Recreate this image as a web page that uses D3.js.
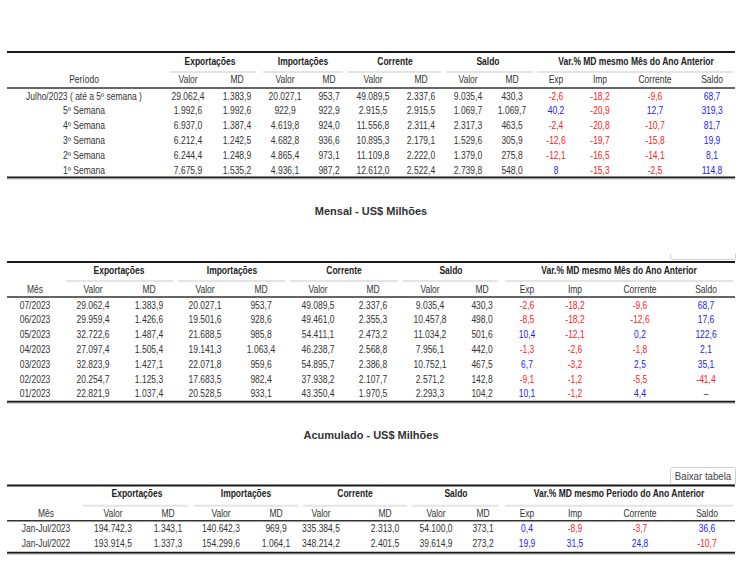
<!DOCTYPE html>
<html>
<head>
<meta charset="utf-8">
<script src="https://cdn.jsdelivr.net/npm/d3@7"></script>
<style>
  html, body { margin: 0; padding: 0; background: #fff; }
  svg { display: block; font-family: "Liberation Sans", Arial, sans-serif; }
</style>
</head>
<body>
<svg id="chart" width="748" height="588"></svg>
<script>
// ---------- DATA ----------
const groupNames = ["Exportações", "Importações", "Corrente", "Saldo"];
const subLabels = ["Valor", "MD", "Valor", "MD", "Valor", "MD", "Valor", "MD", "Exp", "Imp", "Corrente", "Saldo"];

// Table 1 – weekly
const semPeriodos = ["Julho/2023 ( até a 5º semana )", "5º Semana", "4º Semana", "3º Semana", "2º Semana", "1º Semana"];
const semExpValor = [29062.4, 1992.6, 6937.0, 6212.4, 6244.4, 7675.9];
const semExpMD = [1383.9, 1992.6, 1387.4, 1242.5, 1248.9, 1535.2];
const semImpValor = [20027.1, 922.9, 4619.8, 4682.8, 4865.4, 4936.1];
const semImpMD = [953.7, 922.9, 924.0, 936.6, 973.1, 987.2];
const semCorValor = [49089.5, 2915.5, 11556.8, 10895.3, 11109.8, 12612.0];
const semCorMD = [2337.6, 2915.5, 2311.4, 2179.1, 2222.0, 2522.4];
const semSalValor = [9035.4, 1069.7, 2317.3, 1529.6, 1379.0, 2739.8];
const semSalMD = [430.3, 1069.7, 463.5, 305.9, 275.8, 548.0];
const semVarExp = [-2.6, 40.2, -2.4, -12.6, -12.1, 8];
const semVarImp = [-18.2, -20.9, -20.8, -19.7, -16.5, -15.3];
const semVarCor = [-9.6, 12.7, -10.7, -15.8, -14.1, -2.5];
const semVarSal = [68.7, 319.3, 81.7, 19.9, 8.1, 114.8];

// Table 2 – monthly
const mesMeses = ["07/2023", "06/2023", "05/2023", "04/2023", "03/2023", "02/2023", "01/2023"];
const mesExpValor = [29062.4, 29959.4, 32722.6, 27097.4, 32823.9, 20254.7, 22821.9];
const mesExpMD = [1383.9, 1426.6, 1487.4, 1505.4, 1427.1, 1125.3, 1037.4];
const mesImpValor = [20027.1, 19501.6, 21688.5, 19141.3, 22071.8, 17683.5, 20528.5];
const mesImpMD = [953.7, 928.6, 985.8, 1063.4, 959.6, 982.4, 933.1];
const mesCorValor = [49089.5, 49461.0, 54411.1, 46238.7, 54895.7, 37938.2, 43350.4];
const mesCorMD = [2337.6, 2355.3, 2473.2, 2568.8, 2386.8, 2107.7, 1970.5];
const mesSalValor = [9035.4, 10457.8, 11034.2, 7956.1, 10752.1, 2571.2, 2293.3];
const mesSalMD = [430.3, 498.0, 501.6, 442.0, 467.5, 142.8, 104.2];
const mesVarExp = [-2.6, -8.5, 10.4, -1.3, 6.7, -9.1, 10.1];
const mesVarImp = [-18.2, -18.2, -12.1, -2.6, -3.2, -1.2, -1.2];
const mesVarCor = [-9.6, -12.6, 0.2, -1.8, 2.5, -5.5, 4.4];
const mesVarSal = [68.7, 17.6, 122.6, 2.1, 35.1, -41.4, null];

// Table 3 – accumulated
const acuPeriodos = ["Jan-Jul/2023", "Jan-Jul/2022"];
const acuExpValor = [194742.3, 193914.5];
const acuExpMD = [1343.1, 1337.3];
const acuImpValor = [140642.3, 154299.6];
const acuImpMD = [969.9, 1064.1];
const acuCorValor = [335384.5, 348214.2];
const acuCorMD = [2313.0, 2401.5];
const acuSalValor = [54100.0, 39614.9];
const acuSalMD = [373.1, 273.2];
const acuVarExp = [0.4, 19.9];
const acuVarImp = [-8.9, 31.5];
const acuVarCor = [-3.7, 24.8];
const acuVarSal = [36.6, -10.7];

const titles = ["Mensal - US$ Milhões", "Acumulado - US$ Milhões"];
const buttonLabel = "Baixar tabela";

// ---------- RENDER ----------
const svg = d3.select("#chart");
const loc = d3.formatLocale({decimal: ",", thousands: ".", grouping: [3], currency: ["", ""]});
const fmtVal = loc.format(",.1f");
const fmtVar = v => v == null ? "–" : String(v).replace(".", ",");
const varColor = v => v == null ? "#444" : (v < 0 ? "#ff1a1a" : "#2020ff");
const SX = 0.85;
const TXT = "#333";

function txt(g, x, y, s, opts = {}) {
  return g.append("text")
    .attr("transform", `translate(${x},${y}) scale(${opts.sx || SX},1)`)
    .attr("text-anchor", opts.anchor || "middle")
    .attr("dy", "0.35em")
    .attr("font-size", opts.size || 10)
    .attr("font-weight", opts.bold ? "bold" : "normal")
    .attr("fill", opts.color || TXT)
    .text(s);
}

function drawTable(cfg) {
  const g = svg.append("g");
  const colKeys = d3.range(13);
  const x = d3.scaleOrdinal().domain(colKeys).range(cfg.centers);
  const n = cfg.cats.length;
  const y = d3.scaleLinear().domain([0, Math.max(1, n - 1)]).range([cfg.row0, cfg.row0 + cfg.step * Math.max(1, n - 1)]);

  // top line
  g.append("line").attr("x1", cfg.left).attr("x2", cfg.right).attr("y1", cfg.top).attr("y2", cfg.top)
    .attr("stroke", "#1a1a1a").attr("stroke-width", 2);
  // group headers + underlines
  const groups = groupNames.concat([cfg.varHeader]);
  groups.forEach((name, i) => {
    txt(g, cfg.groupCenters[i], cfg.headY, name, {bold: true, color: "#222"});
    g.append("line").attr("x1", cfg.spans[i][0]).attr("x2", cfg.spans[i][1])
      .attr("y1", cfg.ulY).attr("y2", cfg.ulY).attr("stroke", "#e4e4e4").attr("stroke-width", 2);
  });
  // sub headers
  txt(g, x(0), cfg.subY, cfg.firstLabel);
  subLabels.forEach((s, i) => txt(g, x(i + 1), cfg.subY, s));
  // dark line
  g.append("line").attr("x1", cfg.left).attr("x2", cfg.right).attr("y1", cfg.darkY).attr("y2", cfg.darkY)
    .attr("stroke", "#333").attr("stroke-width", 1.5);
  // rows
  cfg.cats.forEach((c, r) => {
    txt(g, x(0), y(r), c);
    cfg.series.forEach((arr, j) => {
      const v = arr[r];
      if (j < 8) txt(g, x(j + 1), y(r), fmtVal(v));
      else txt(g, x(j + 1), y(r), fmtVar(v), {color: varColor(v)});
    });
  });
  // bottom line
  g.append("line").attr("x1", cfg.left).attr("x2", cfg.right).attr("y1", cfg.bottom).attr("y2", cfg.bottom)
    .attr("stroke", "#1a1a1a").attr("stroke-width", 2);
  g.append("line").attr("x1", cfg.left).attr("x2", cfg.right).attr("y1", cfg.bottom + 1.5).attr("y2", cfg.bottom + 1.5)
    .attr("stroke", "#bbb").attr("stroke-width", 1);
}

drawTable({
  top: 52, headY: 61, ulY: 72, subY: 79.5, darkY: 88, row0: 96, step: 14.8, bottom: 177.5,
  left: 7, right: 735,
  centers: [84, 188, 237, 285, 329, 373, 421, 468, 512, 556, 600, 655, 712],
  groupCenters: [210, 303, 395, 488, 636],
  spans: [[170, 256], [263, 343], [348, 441], [446, 533], [537, 733]],
  firstLabel: "Período",
  varHeader: "Var.% MD mesmo Mês do Ano Anterior",
  cats: semPeriodos,
  series: [semExpValor, semExpMD, semImpValor, semImpMD, semCorValor, semCorMD, semSalValor, semSalMD,
           semVarExp, semVarImp, semVarCor, semVarSal]
});

txt(svg, 371, 211, titles[0], {bold: true, size: 11, sx: 1, color: "#333"});

// partially hidden button edge above table 2
svg.append("path").attr("d", "M670.5,254 L670.5,257 Q670.5,259.5 673,259.5 L733,259.5 Q735.5,259.5 735.5,257 L735.5,254")
  .attr("fill", "none").attr("stroke", "#d0d0d0").attr("stroke-width", 1);

drawTable({
  top: 262, headY: 270, ulY: 281, subY: 289.3, darkY: 297, row0: 305, step: 14.8, bottom: 401.7,
  left: 7, right: 735,
  centers: [35, 93, 149, 205, 261, 318, 373, 430, 482, 527, 575, 640, 706],
  groupCenters: [119, 232, 344, 451, 619],
  spans: [[66, 173], [178, 285], [290, 398], [403, 498], [505, 733]],
  firstLabel: "Mês",
  varHeader: "Var.% MD mesmo Mês do Ano Anterior",
  cats: mesMeses,
  series: [mesExpValor, mesExpMD, mesImpValor, mesImpMD, mesCorValor, mesCorMD, mesSalValor, mesSalMD,
           mesVarExp, mesVarImp, mesVarCor, mesVarSal]
});

txt(svg, 371, 435, titles[1], {bold: true, size: 11, sx: 1, color: "#333"});

// button
svg.append("rect").attr("x", 670.5).attr("y", 467.5).attr("width", 65).attr("height", 17).attr("rx", 2)
  .attr("fill", "#fff").attr("stroke", "#cfcfcf");
txt(svg, 703, 476, buttonLabel, {size: 10.5, sx: 0.92, color: "#444"});

drawTable({
  top: 485.5, headY: 493.3, ulY: 505.7, subY: 513.3, darkY: 520.7, row0: 528.3, step: 15.6, bottom: 552.7,
  left: 7, right: 735,
  centers: [46, 113, 168, 221, 276, 321, 385, 436, 483, 527, 575, 640, 707],
  groupCenters: [137, 246, 355, 456, 619],
  spans: [[83, 188], [194, 298], [303, 407], [412, 498], [505, 733]],
  firstLabel: "Mês",
  varHeader: "Var.% MD mesmo Periodo do Ano Anterior",
  cats: acuPeriodos,
  series: [acuExpValor, acuExpMD, acuImpValor, acuImpMD, acuCorValor, acuCorMD, acuSalValor, acuSalMD,
           acuVarExp, acuVarImp, acuVarCor, acuVarSal]
});
</script>
</body>
</html>
